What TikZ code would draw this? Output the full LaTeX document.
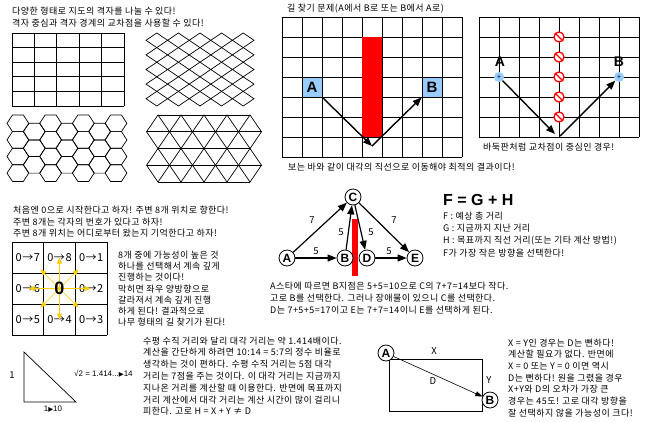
\documentclass[tikz,border=0pt]{standalone}
\usepackage{fontspec}
\setmainfont{Noto Sans CJK KR}[LetterSpace=5]
\newfontfamily\lat{Liberation Sans}
\newfontfamily\sym{DejaVu Sans}
\usetikzlibrary{arrows.meta,calc}
\definecolor{cellblue}{HTML}{99CCFF}
\definecolor{wallred}{HTML}{FF0000}
\definecolor{rayyellow}{HTML}{FFCC00}
\newcommand{\tri}{{\sym\scalebox{0.8}{▶}}}

\begin{document}
\begin{tikzpicture}[x=1pt,y=-1pt,>={Triangle[length=9pt,width=7pt]},
    txt/.style={anchor=north west,inner sep=0pt,align=left,
                font=\fontsize{9}{12}\selectfont},
    grid/.style={line width=0.7pt},
    lettercell/.style={draw,line width=0.7pt,fill=cellblue,minimum size=20pt,
                inner sep=0pt,font=\lat\bfseries\fontsize{15}{15}\selectfont},
    pinpoint/.style={circle,fill=cellblue,minimum size=10pt,inner sep=0pt,
                font=\fontsize{7}{7}\selectfont},
    ban/.style={circle,draw=wallred,line width=1.3pt,fill=white,
                minimum size=10pt,inner sep=0pt},
    bigletter/.style={inner sep=0pt,font=\lat\bfseries\fontsize{14}{14}\selectfont},
    gnode/.style={circle,draw,thick,fill=white,minimum size=16pt,inner sep=0pt,
                font=\lat\bfseries\fontsize{12}{12}\selectfont},
    cellnum/.style={inner sep=0pt,font=\fontsize{11}{11}\selectfont},
    ray/.style={->,rayyellow,line width=0.6pt,>={Triangle[length=6pt,width=5pt]}},
    cost/.style={inner sep=0pt,font=\fontsize{9.5}{9.5}\selectfont},
    ratio/.style={inner sep=0pt,font=\lat\fontsize{8}{8}\selectfont},
    path/.style={->,line width=1.4pt}]
\useasboundingbox (0,0) rectangle (650,421);

% map grids
\node[txt] (t1) at (12,6.5) {다양한 형태로 지도의 격자를 나눌 수 있다!\\격자 중심과 격자 경계의 교차점을 사용할 수 있다!};
\foreach \i in {0,...,5} {
  \draw[grid] (12+22.4*\i,33) -- (12+22.4*\i,106);
  \draw[grid] (12,33+14.6*\i) -- (124,33+14.6*\i);
}
\foreach \i in {0,...,4} \foreach \j in {0,...,4}
  \draw[grid] (156.8+21.6*\j,33+14.6*\i) -- ++(10.8,7.3) -- ++(-10.8,7.3)
    -- ++(-10.8,-7.3) -- cycle;
\foreach \c in {0,2,4,6} \foreach \j in {0,...,3}
  \draw[grid] (7+16.35*\c,123.3+16.6*\j) -- ++(5.45,-8.3) -- ++(10.9,0)
    -- ++(5.45,8.3) -- ++(-5.45,8.3) -- ++(-10.9,0) -- cycle;
\foreach \c in {1,3,5} \foreach \j in {0,1,2}
  \draw[grid] (7+16.35*\c,131.6+16.6*\j) -- ++(5.45,-8.3) -- ++(10.9,0)
    -- ++(5.45,8.3) -- ++(-5.45,8.3) -- ++(-10.9,0) -- cycle;
\foreach \k in {0,2,4} \draw[grid] (158,115+16.75*\k) -- (250,115+16.75*\k);
\foreach \k in {1,3} \draw[grid] (146.5,115+16.75*\k) -- (261.5,115+16.75*\k);
\foreach \e/\o in {0/1,2/1,2/3,4/3} \foreach \m in {0,...,4}
  \draw[grid] (146.5+23*\m,115+16.75*\o) -- (158+23*\m,115+16.75*\e)
    -- (169.5+23*\m,115+16.75*\o);

% path finding, cell centres
\node[txt,anchor=west] (t2) at (287,9) {길 찾기 문제(A에서 B로 또는 B에서 A로)};
\foreach \i in {0,...,9} \draw[grid] (282+20*\i,17) -- (282+20*\i,157);
\foreach \i in {0,...,7} \draw[grid] (282,17+20*\i) -- (462,17+20*\i);
\fill[wallred] (362,37) rectangle (382,137);
\node[lettercell] (ca) at (312,87) {A};
\node[lettercell] (cb) at (432,87) {B};
\coordinate (turn) at (372,146);
\draw[path] (ca.south east) -- (turn);
\draw[path] (turn) -- (cb.south west);
\node[txt,anchor=west] (t4) at (288,167) {보는 바와 같이 대각의 직선으로 이동해야 최적의 결과이다!};

% path finding, cell corners
\foreach \i in {0,...,8} \draw[grid] (479+20*\i,17) -- (479+20*\i,137);
\foreach \i in {0,...,6} \draw[grid] (479,17+20*\i) -- (639,17+20*\i);
\foreach \y [count=\n] in {37,57,77,97,117} {
  \node[ban] (stop\n) at (559,\y) {};
  \draw[wallred,line width=1.3pt] (stop\n.north west) -- (stop\n.south east);
}
\node[pinpoint] (pa) at (499,77) {+};
\node[pinpoint] (pb) at (619,77) {+};
\node[bigletter] (la) at (500,62) {A};
\node[bigletter] (lb) at (619,62) {B};
\coordinate (low1) at (555,134);
\coordinate (low2) at (560,136);
\draw[path] (pa) -- (low1);
\draw[path] (low2) -- (pb);
\node[txt,anchor=west] (t3) at (483,147) {바둑판처럼 교차점이 중심인 경우!};

% eight neighbours
\node[txt,font=\fontsize{9}{11.5}\selectfont] (t5) at (13,206) {처음엔 0으로 시작한다고 하자! 주변 8개 위치로 향한다!\\주변 8개는 각자의 번호가 있다고 하자!\\주변 8개 위치는 어디로부터 왔는지 기억한다고 하자!};
\foreach \i in {0,...,3} {
  \draw[grid] (12+31.67*\i,242) -- (12+31.67*\i,335);
  \draw[grid] (12,242+31*\i) -- (107,242+31*\i);
}
\foreach \t/\x/\y [count=\n] in {0→7/27.8/257.5,0→8/59.5/257.5,0→1/91.2/257.5,
    0→6/27.8/288.5,0→2/91.2/288.5,0→5/27.8/319.5,0→4/59.5/319.5,0→3/91.2/319.5}
  \node[cellnum] (num\n) at (\x,\y) {\t};
\coordinate (hub) at (59.5,288.5);
\foreach \a/\l [count=\n] in {0/31,45/27,90/31,135/27,180/31,225/27,270/31,315/27} {
  \coordinate (tip\n) at ($(hub)+(\a:\l)$);
  \draw[ray] (hub) -- (tip\n);
}
\node[inner sep=0pt,font=\lat\bfseries\fontsize{18}{18}\selectfont] (k0) at (hub) {0};
\node[txt,font=\fontsize{9}{11.3}\selectfont] (t6) at (118,250.5) {8개 중에 가능성이 높은 것\\하나를 선택해서 계속 깊게\\진행하는 것이다!\\막히면 좌우 양방향으로\\갈라져서 계속 깊게 진행\\하게 된다! 결과적으로\\나무 형태의 길 찾기가 된다!};

% A star graph
\fill[wallred] (352,219) rectangle (358,276);
\node[gnode] (ga) at (287,258) {A};
\node[gnode] (gb) at (345,258) {B};
\node[gnode] (gc) at (353,197) {C};
\node[gnode] (gd) at (367,258) {D};
\node[gnode] (ge) at (415,258) {E};
\draw[->,line width=1.2pt] (ga) -- (gc);
\draw[->,line width=1.2pt] (ga) -- (gb);
\draw[->,line width=1.2pt] (gb) -- (gc);
\draw[->,line width=1.2pt] (gc) -- (gd);
\draw[->,line width=1.2pt] (gd) -- (ge);
\draw[->,line width=1.2pt] (gc) -- (ge);
\node[cost] (w1) at (312,220) {7};
\node[cost] (w2) at (316,251) {5};
\node[cost] (w3) at (341,232) {5};
\node[cost] (w4) at (371,232) {5};
\node[cost] (w5) at (389,251) {5};
\node[cost] (w6) at (394,220) {7};
\node[txt] (t7) at (270,281.5) {A스타에 따르면 B지점은 5+5=10으로 C의 7+7=14보다 작다.\\고로 B를 선택한다. 그러나 장애물이 있으니 C를 선택한다.\\D는 7+5+5=17이고 E는 7+7=14이니 E를 선택하게 된다.};

\node[inner sep=0pt,anchor=west,font=\lat\bfseries\fontsize{16}{16}\selectfont] (fgh) at (443,200) {F = G + H};
\node[txt,font=\fontsize{9}{12.3}\selectfont] (t8) at (443,211.5) {F : 예상 총 거리\\G : 지금까지 지난 거리\\H : 목표까지 직선 거리(또는 기타 계산 방법!)\\F가 가장 작은 방향을 선택한다!};

% diagonal cost
\coordinate (tt) at (24,352);
\coordinate (tl) at (24,402);
\coordinate (tr) at (76,402);
\draw[line width=0.7pt] (tt) -- (tl) -- (tr) -- cycle;
\node[cost] (s1) at (12,375) {1};
\node[ratio,anchor=west] (s2) at (74,374) {√2 = 1.414...\tri{}14};
\node[ratio] (s3) at (53,409) {1\tri{}10};
\node[txt,font=\fontsize{9}{11.8}\selectfont] (t9) at (143,336.5) {수평 수직 거리와 달리 대각 거리는 약 1.414배이다.\\계산을 간단하게 하려면 10:14 = 5:7의 정수 비율로\\생각하는 것이 편하다. 수평 수직 거리는 5점 대각\\거리는 7점을 주는 것이다. 이 대각 거리는 지금까지\\지나온 거리를 계산할 때 이용한다. 반면에 목표까지\\거리 계산에서 대각 거리는 계산 시간이 많이 걸리니\\피한다. 고로 H = X + Y ≠ D};

\coordinate (rtl) at (389,359);
\coordinate (rbr) at (482,411);
\draw[line width=0.7pt] (rtl) rectangle (rbr);
\node[gnode] (ra) at (386,353) {A};
\node[gnode] (rb) at (490,400) {B};
\draw[->,>={Triangle[length=7pt,width=5pt]},line width=0.6pt] (ra) -- (rb);
\node[cost] (rx) at (434,351) {X};
\node[cost] (rd) at (433,381) {D};
\node[cost] (ry) at (489,380) {Y};
\node[txt,font=\fontsize{9}{11.7}\selectfont] (t10) at (508,338.5) {X = Y인 경우는 D는 뻔하다!\\계산할 필요가 없다. 반면에\\X = 0 또는 Y = 0 이면 역시\\D는 뻔하다! 원을 그렸을 경우\\X+Y와 D의 오차가 가장 큰\\경우는 45도! 고로 대각 방향을\\잘 선택하지 않을 가능성이 크다!};
\end{tikzpicture}
\end{document}
